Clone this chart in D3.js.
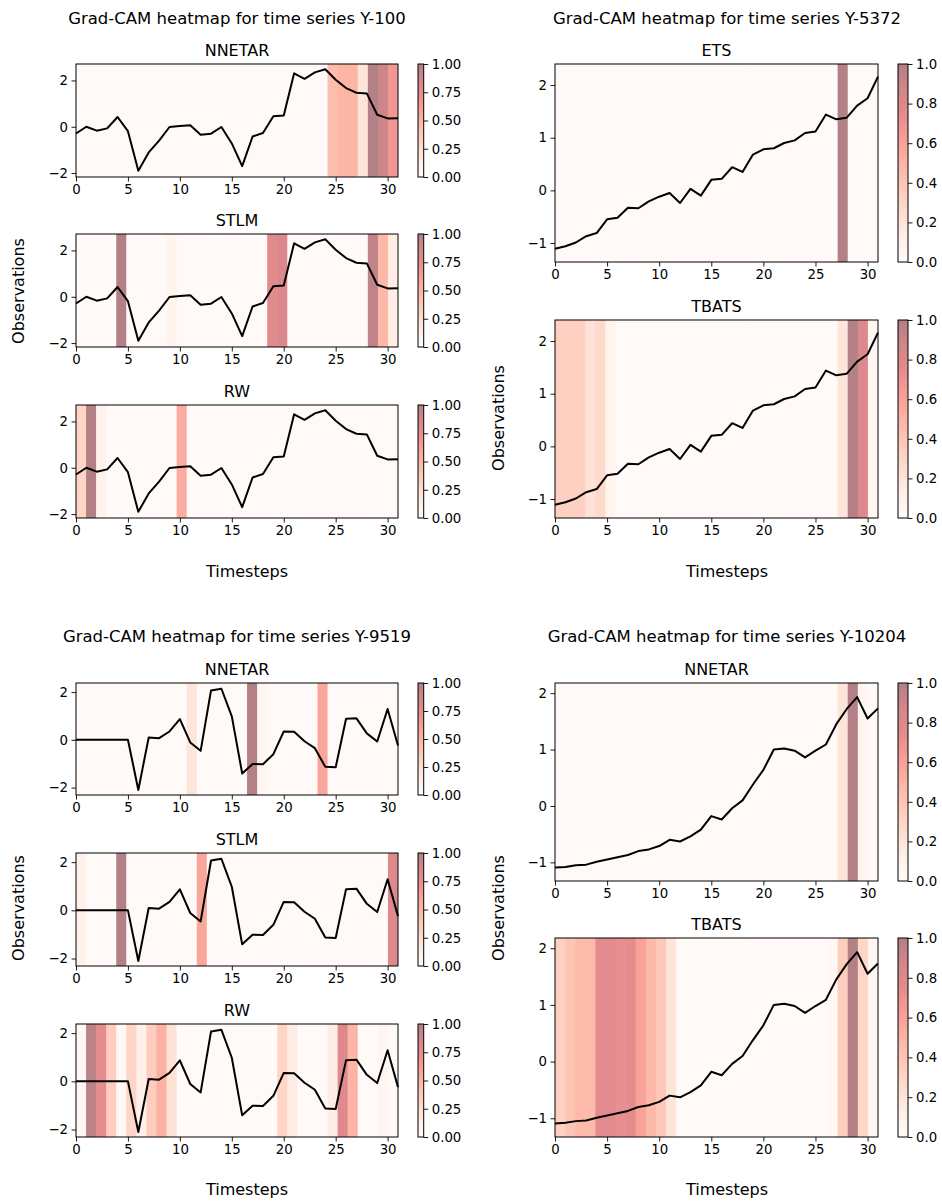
<!DOCTYPE html>
<html>
<head>
<meta charset="utf-8">
<script src="https://cdn.jsdelivr.net/npm/d3@7"></script>
<style>
  body { margin: 0; background: #fff; }
  svg { font-family: 'DejaVu Sans', sans-serif; }
</style>
</head>
<body>
<svg id="chart" width="942" height="1202"></svg>
<script>
// --- data -------------------------------------------------------------
var xTicks = [0, 5, 10, 15, 20, 25, 30]

var y100 = [-0.29, 0.00, -0.17, -0.07, 0.42, -0.19, -1.90, -1.11, -0.60, -0.01, 0.03, 0.06, -0.35, -0.30, -0.01, -0.72,
  -1.70, -0.42, -0.27, 0.45, 0.49, 2.31, 2.07, 2.35, 2.48, 2.03, 1.67, 1.47, 1.44, 0.52, 0.36, 0.37]
var y5372 = [-1.11, -1.06, -0.99, -0.87, -0.81, -0.55, -0.52, -0.33, -0.34, -0.21, -0.12, -0.05, -0.24, 0.03, -0.10, 0.20,
  0.22, 0.44, 0.35, 0.68, 0.78, 0.80, 0.90, 0.95, 1.09, 1.12, 1.44, 1.35, 1.38, 1.61, 1.75, 2.16]
var y9519 = [0, 0, 0, 0, 0, 0, -2.10, 0.10, 0.07, 0.35, 0.87, -0.11, -0.46, 2.07, 2.14, 0.98,
  -1.41, -1.01, -1.02, -0.60, 0.35, 0.34, -0.06, -0.35, -1.13, -1.15, 0.88, 0.90, 0.27, -0.07, 1.29, -0.24]
var y10204 = [-1.09, -1.08, -1.05, -1.04, -0.99, -0.95, -0.91, -0.87, -0.80, -0.77, -0.71, -0.60, -0.63, -0.54, -0.42, -0.18,
  -0.24, -0.04, 0.10, 0.38, 0.64, 1.00, 1.02, 0.98, 0.86, 0.98, 1.09, 1.45, 1.72, 1.93, 1.55, 1.73]

var ylimY100 = [-2.17, 2.71]
var ylimY5372 = [-1.36, 2.40]
var ylimY9519 = [-2.31, 2.38]
var ylimY10204 = [-1.33, 2.18]

var yTicksSmall = [-2, 0, 2]
var yTicksLarge = [-1, 0, 1, 2]
var cbTicksSmall = [0, 0.25, 0.5, 0.75, 1]
var cbTicksLarge = [0, 0.2, 0.4, 0.6, 0.8, 1]

// grad-cam weights, one per timestep cell
var camY100Nnetar = [0, 0, 0, 0, 0, 0, 0, 0, 0, 0, 0, 0, 0, 0, 0, 0,
  0, 0, 0, 0, 0, 0, 0, 0, 0, 0.44, 0.5, 0.5, 0.2, 1.0, 0.9, 0.66]
var camY100Stlm = [0.01, 0.01, 0.01, 0.01, 1.0, 0.01, 0.01, 0.01, 0.01, 0.08, 0.01, 0.01, 0.01, 0.01, 0.01, 0.01,
  0.01, 0.01, 0.01, 0.78, 0.82, 0.01, 0.01, 0.01, 0.01, 0.01, 0.01, 0.01, 0.01, 0.95, 0.48, 0.15]
var camY100Rw = [0.3, 1.0, 0.1, 0.01, 0.01, 0.01, 0.01, 0.01, 0.01, 0.01, 0.55, 0.01, 0.01, 0.01, 0.01, 0.01,
  0.01, 0.01, 0.01, 0.01, 0.01, 0.01, 0.01, 0.01, 0.01, 0.01, 0.01, 0.01, 0.01, 0.01, 0.01, 0.01]
var camY5372Ets = [0.01, 0.01, 0.01, 0.01, 0.01, 0.01, 0.01, 0.01, 0.01, 0.01, 0.01, 0.01, 0.01, 0.01, 0.01, 0.01,
  0.01, 0.01, 0.01, 0.01, 0.01, 0.01, 0.01, 0.01, 0.01, 0.01, 0.01, 0.01, 1.0, 0.01, 0.01, 0.01]
var camY5372Tbats = [0.33, 0.33, 0.33, 0.22, 0.27, 0.08, 0.01, 0.01, 0.01, 0.01, 0.01, 0.01, 0.01, 0.01, 0.01, 0.01,
  0.01, 0.01, 0.01, 0.01, 0.01, 0.01, 0.01, 0.01, 0.01, 0.01, 0.01, 0.01, 0.2, 1.0, 0.82, 0.06]
var camY9519Nnetar = [0.01, 0.01, 0.01, 0.01, 0.01, 0.01, 0.01, 0.01, 0.01, 0.01, 0.01, 0.2, 0.01, 0.01, 0.01, 0.01,
  0.01, 1.0, 0.06, 0.01, 0.01, 0.01, 0.01, 0.01, 0.58, 0.01, 0.01, 0.01, 0.01, 0.01, 0.01, 0.01]
var camY9519Stlm = [0.1, 0.01, 0.01, 0.01, 1.0, 0.01, 0.01, 0.01, 0.01, 0.01, 0.01, 0.01, 0.58, 0.01, 0.01, 0.01,
  0.01, 0.01, 0.01, 0.01, 0.01, 0.01, 0.01, 0.01, 0.01, 0.01, 0.01, 0.01, 0.01, 0.01, 0.01, 0.8]
var camY9519Rw = [0.04, 0.97, 0.75, 0.35, 0.03, 0.3, 0.12, 0.35, 0.52, 0.22, 0.01, 0.01, 0.01, 0.01, 0.01, 0.01,
  0.01, 0.01, 0.01, 0.01, 0.3, 0.15, 0.01, 0.01, 0.01, 0.15, 0.8, 0.5, 0.01, 0.01, 0.06, 0.01]
var camY10204Nnetar = [0.01, 0.01, 0.01, 0.01, 0.01, 0.01, 0.01, 0.01, 0.01, 0.01, 0.01, 0.01, 0.01, 0.01, 0.01, 0.01,
  0.01, 0.01, 0.01, 0.01, 0.01, 0.01, 0.01, 0.01, 0.01, 0.01, 0.01, 0.01, 0.2, 1.0, 0.06, 0.01]
var camY10204Tbats = [0.33, 0.4, 0.47, 0.47, 0.77, 0.77, 0.73, 0.75, 0.6, 0.48, 0.38, 0.2, 0.01, 0.01, 0.01, 0.01,
  0.01, 0.01, 0.01, 0.01, 0.01, 0.01, 0.01, 0.01, 0.01, 0.01, 0.01, 0.04, 0.35, 1.0, 0.3, 0.06]

// matplotlib "Reds"
var redsStops = ['#fff5f0', '#fee0d2', '#fcbba1', '#fc9272', '#fb6a4a', '#ef3b2c', '#cb181d', '#a50f15', '#67000d']
var reds = d3.scaleLinear().domain(d3.range(9).map(function(i) { return i / 8 })).range(redsStops)
// alpha 0.5 over white, precomposed so touching cells show no seams
var heatColor = function(v) { return d3.interpolateRgb('#ffffff', reds(v))(0.5) }

// --- layout -----------------------------------------------------------
var groups = [
  { title: 'Grad-CAM heatmap for time series Y-100', cx: 237, ty: 24, obs: [18, 291], ts: [247, 577],
    series: y100, ylim: ylimY100, yTicks: yTicksSmall, cbTicks: cbTicksSmall, cbFmt: '.2f',
    x0: 76, x1: 398, cbx: 418, cbw: 5.7,
    panels: [
      { name: 'NNETAR', cam: camY100Nnetar, top: 64, bottom: 177 },
      { name: 'STLM', cam: camY100Stlm, top: 234, bottom: 347 },
      { name: 'RW', cam: camY100Rw, top: 405, bottom: 518 } ] },
  { title: 'Grad-CAM heatmap for time series Y-5372', cx: 727, ty: 24, obs: [498, 418], ts: [727, 577],
    series: y5372, ylim: ylimY5372, yTicks: yTicksLarge, cbTicks: cbTicksLarge, cbFmt: '.1f',
    x0: 555, x1: 878, cbx: 898, cbw: 10,
    panels: [
      { name: 'ETS', cam: camY5372Ets, top: 64, bottom: 262 },
      { name: 'TBATS', cam: camY5372Tbats, top: 320, bottom: 518 } ] },
  { title: 'Grad-CAM heatmap for time series Y-9519', cx: 237, ty: 642, obs: [18, 908], ts: [247, 1195],
    series: y9519, ylim: ylimY9519, yTicks: yTicksSmall, cbTicks: cbTicksSmall, cbFmt: '.2f',
    x0: 76, x1: 398, cbx: 418, cbw: 5.7,
    panels: [
      { name: 'NNETAR', cam: camY9519Nnetar, top: 683, bottom: 795 },
      { name: 'STLM', cam: camY9519Stlm, top: 853, bottom: 966 },
      { name: 'RW', cam: camY9519Rw, top: 1024, bottom: 1137 } ] },
  { title: 'Grad-CAM heatmap for time series Y-10204', cx: 727, ty: 642, obs: [498, 908], ts: [727, 1195],
    series: y10204, ylim: ylimY10204, yTicks: yTicksLarge, cbTicks: cbTicksLarge, cbFmt: '.1f',
    x0: 555, x1: 878, cbx: 898, cbw: 10,
    panels: [
      { name: 'NNETAR', cam: camY10204Nnetar, top: 683, bottom: 881 },
      { name: 'TBATS', cam: camY10204Tbats, top: 938, bottom: 1137 } ] }
]

var svg = d3.select('#chart')
svg.append('rect').attr('width', 942).attr('height', 1202).attr('fill', '#fff')

var defs = svg.append('defs')
var grad = defs.append('linearGradient').attr('id', 'redsGrad')
  .attr('x1', 0).attr('y1', 1).attr('x2', 0).attr('y2', 0)
redsStops.forEach(function(c, i) {
  grad.append('stop').attr('offset', (i / 8 * 100) + '%').attr('stop-color', c)
})

var tickFont = 13.3

function styleAxis(g) {
  g.select('.domain').remove()
  g.selectAll('.tick line').attr('stroke', '#000').attr('stroke-width', 0.9)
  g.selectAll('.tick text').attr('fill', '#000').style('font-size', tickFont + 'px')
    .style('font-family', "'DejaVu Sans', sans-serif")
}

groups.forEach(function(grp) {
  svg.append('text')
    .attr('x', grp.cx).attr('y', grp.ty)
    .attr('text-anchor', 'middle')
    .style('font-size', '16.5px')
    .text(grp.title)

  svg.append('text')
    .attr('transform', 'translate(' + grp.obs[0] + ',' + grp.obs[1] + ') rotate(-90)')
    .attr('text-anchor', 'middle').attr('dy', '0.35em')
    .style('font-size', '16px')
    .text('Observations')

  svg.append('text')
    .attr('x', grp.ts[0]).attr('y', grp.ts[1])
    .attr('text-anchor', 'middle')
    .style('font-size', '16px')
    .text('Timesteps')

  grp.panels.forEach(function(p) {
    var x = d3.scaleLinear().domain([0, 31]).range([grp.x0, grp.x1])
    var y = d3.scaleLinear().domain(grp.ylim).range([p.bottom, p.top])
    var cells = d3.scaleBand().domain(d3.range(p.cam.length)).range([x(0), x(31)])

    var g = svg.append('g')

    // heatmap strip
    g.selectAll('rect.cell')
      .data(p.cam)
      .enter().append('rect')
        .attr('class', 'cell')
        .attr('x', function(d, i) { return cells(i) })
        .attr('y', p.top)
        .attr('width', function(d, i) { return cells.bandwidth() + (i < p.cam.length - 1 ? 0.6 : 0) })
        .attr('height', p.bottom - p.top)
        .attr('fill', function(d) { return heatColor(d) })

    var line = d3.line()
      .x(function(d, i) { return x(i) })
      .y(function(d) { return y(d) })

    g.append('path')
      .datum(grp.series)
      .attr('d', line)
      .attr('fill', 'none')
      .attr('stroke', '#000')
      .attr('stroke-width', 2)
      .attr('stroke-linejoin', 'round')

    g.append('rect')
      .attr('x', x(0)).attr('y', p.top)
      .attr('width', x(31) - x(0)).attr('height', p.bottom - p.top)
      .attr('fill', 'none').attr('stroke', '#000').attr('stroke-width', 1)

    g.append('g')
      .attr('transform', 'translate(0,' + p.bottom + ')')
      .call(d3.axisBottom(x).tickValues(xTicks).tickFormat(d3.format('d'))
        .tickSize(4.5).tickPadding(3.5).tickSizeOuter(0))
      .call(styleAxis)

    g.append('g')
      .attr('transform', 'translate(' + grp.x0 + ',0)')
      .call(d3.axisLeft(y).tickValues(grp.yTicks).tickFormat(d3.format('d'))
        .tickSize(4.5).tickPadding(3.5).tickSizeOuter(0))
      .call(styleAxis)

    g.append('text')
      .attr('x', (grp.x0 + grp.x1) / 2).attr('y', p.top - 8)
      .attr('text-anchor', 'middle')
      .style('font-size', '16px')
      .text(p.name)

    // colorbar
    var cb = d3.scaleLinear().domain([0, 1]).range([p.bottom, p.top])
    g.append('rect')
      .attr('x', grp.cbx).attr('y', p.top)
      .attr('width', grp.cbw).attr('height', p.bottom - p.top)
      .attr('fill', 'url(#redsGrad)').attr('fill-opacity', 0.5)
    g.append('rect')
      .attr('x', grp.cbx).attr('y', p.top)
      .attr('width', grp.cbw).attr('height', p.bottom - p.top)
      .attr('fill', 'none').attr('stroke', '#000').attr('stroke-width', 1)
    g.append('g')
      .attr('transform', 'translate(' + (grp.cbx + grp.cbw) + ',0)')
      .call(d3.axisRight(cb).tickValues(grp.cbTicks).tickFormat(d3.format(grp.cbFmt))
        .tickSize(4.5).tickPadding(3.5).tickSizeOuter(0))
      .call(styleAxis)
  })
})
</script>
</body>
</html>
